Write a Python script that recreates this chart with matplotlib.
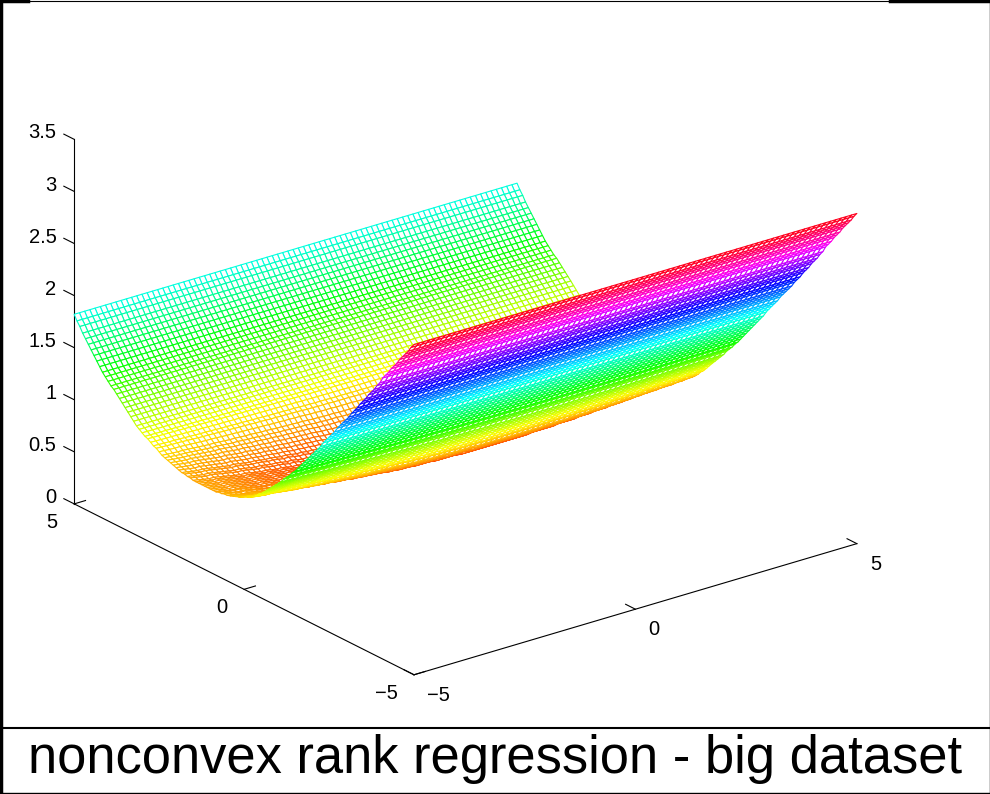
import matplotlib
matplotlib.use('Agg')
import matplotlib.pyplot as plt
from matplotlib.lines import Line2D
import numpy as np

plt.rcParams['font.family'] = ['Liberation Sans', 'DejaVu Sans']

title = 'nonconvex rank regression - big dataset'
tick_xy = [-5, 0, 5]
tick_z = [0, 0.5, 1, 1.5, 2, 2.5, 3, 3.5]
tick_z_labels = ['0', '0.5', '1', '1.5', '2', '2.5', '3', '3.5']

# height of the x=-5 edge, one value per mesh line, y=-5 to y=5
edge_z = [3.17, 3.13, 3.08, 3.04, 3.00, 2.96, 2.91, 2.87, 2.83, 2.78, 2.74, 2.70,
          2.64, 2.60, 2.55, 2.51, 2.47, 2.42, 2.38, 2.34, 2.29, 2.25, 2.21, 2.16,
          2.12, 2.08, 2.04, 2.00, 1.95, 1.91, 1.87, 1.83, 1.79, 1.74, 1.70, 1.66,
          1.62, 1.58, 1.54, 1.50, 1.46, 1.42, 1.38, 1.35, 1.31, 1.28, 1.25, 1.21,
          1.18, 1.15, 1.12, 1.09, 1.06, 1.03, 1.00, 0.98, 0.95, 0.93, 0.91, 0.90,
          0.89, 0.87, 0.86, 0.85, 0.84, 0.83, 0.82, 0.82, 0.81, 0.81, 0.80, 0.80,
          0.80, 0.80, 0.80, 0.80, 0.80, 0.80, 0.80, 0.81, 0.81, 0.82, 0.82, 0.83,
          0.84, 0.85, 0.86, 0.87, 0.88, 0.89, 0.91, 0.93, 0.94, 0.96, 0.98, 0.99,
          1.01, 1.03, 1.05, 1.08, 1.11, 1.14, 1.17, 1.20, 1.23, 1.26, 1.29, 1.31,
          1.34, 1.37, 1.40, 1.44, 1.48, 1.52, 1.56, 1.60, 1.64, 1.68, 1.73, 1.77,
          1.82]

# how far the valley floor sits below that edge, x=-5 to x=5
valley_dip = [0.00, 0.01, 0.02, 0.03, 0.03, 0.04, 0.05, 0.06, 0.07, 0.08, 0.08, 0.09, 0.10,
              0.11, 0.11, 0.12, 0.13, 0.13, 0.14, 0.15, 0.15, 0.16, 0.17, 0.17, 0.18, 0.18,
              0.19, 0.19, 0.20, 0.21, 0.21, 0.22,
              0.22, 0.22, 0.23, 0.23, 0.23, 0.23, 0.24, 0.24, 0.24, 0.24, 0.24, 0.25, 0.25,
              0.25, 0.25, 0.25, 0.25, 0.25, 0.25,
              0.25, 0.25, 0.25, 0.25, 0.25, 0.24, 0.24, 0.24, 0.24, 0.24, 0.23, 0.23, 0.23,
              0.23, 0.22, 0.22, 0.22, 0.21, 0.21, 0.21, 0.20, 0.20, 0.20, 0.19, 0.19, 0.18,
              0.18, 0.18, 0.17, 0.17, 0.17, 0.16, 0.16, 0.15, 0.15]

# share of the dip felt at each y line
dip_share = [0.00] * 31 + [
    0.01, 0.02, 0.03, 0.03, 0.04, 0.05,
    0.06, 0.07, 0.08, 0.09, 0.10, 0.12, 0.14, 0.16, 0.18, 0.21, 0.24, 0.27,
    0.30, 0.34, 0.37, 0.41, 0.46, 0.50, 0.54, 0.59, 0.64, 0.69, 0.74, 0.79,
    0.84, 0.89, 0.93, 0.96, 0.98] + [1.00] * 13 + [
    0.97, 0.94, 0.90, 0.86, 0.81, 0.75, 0.69, 0.61, 0.53, 0.46, 0.39, 0.32,
    0.26, 0.21, 0.16, 0.12, 0.09, 0.07, 0.04, 0.03, 0.02, 0.01] + [0.00] * 20

x_lines = np.linspace(-5, 5, len(valley_dip))
y_lines = np.linspace(-5, 5, len(edge_z))
X, Y = np.meshgrid(x_lines, y_lines)
Z = np.array(edge_z)[:, None] - np.outer(dip_share, valley_dip)

fig = plt.figure(figsize=(9.9, 7.94), dpi=100)
ax = fig.add_axes([-48 / 990, -61 / 794, 1000 / 990, 1000 / 794], projection='3d')
ax.set_proj_type('ortho')
ax.view_init(elev=22.7, azim=-127.5)
ax.set_box_aspect((558, 558, 395), zoom=0.857)
ax.set_xlim(-5, 5, view_margin=0)
ax.set_ylim(-5, 5, view_margin=0)
ax.set_zlim(0, 3.5, view_margin=0)

surf = ax.plot_surface(X, Y, Z, rstride=1, cstride=1, color='white', shade=False, linewidth=0.8)
cells = (Z[:-1, :-1] + Z[1:, :-1] + Z[:-1, 1:] + Z[1:, 1:]) / 4
hue = (cells - 0.5) / (Z.max() - 0.5)
surf.set_edgecolor(plt.cm.hsv(hue.ravel()))
surf.set_facecolor('white')

ax.set_xticks(tick_xy)
ax.set_yticks(tick_xy)
ax.set_zticks(tick_z)
ax.set_zticklabels(tick_z_labels)
ax.grid(False)
ax.zaxis._get_tickdir = lambda pos: 1
for axis, tick_len in ((ax.xaxis, 0.36), (ax.yaxis, 0.32), (ax.zaxis, 0.38)):
    axis.pane.fill = False
    axis.pane.set_edgecolor('none')
    axis.line.set_linewidth(0.8)
    axis.line.set_color('black')
    axis._axinfo['tick']['inward_factor'] = 0
    axis._axinfo['tick']['outward_factor'] = tick_len
    axis._axinfo['tick']['linewidth'] = {True: 0.8, False: 0.8}
ax.tick_params(axis='x', labelsize=14.5, pad=6.5)
ax.tick_params(axis='y', labelsize=14.5, pad=6)
ax.tick_params(axis='z', labelsize=14.5, pad=0.5)
for t in ax.get_xticklabels():
    t.set_ha('left')
    t.set_va('center')
for t in ax.get_yticklabels():
    t.set_ha('right')
    t.set_va('center')
for t in ax.get_zticklabels():
    t.set_ha('right')
    t.set_va('baseline')

# caption box and outer frame
fig.add_artist(Line2D([0, 1], [1 - 727.5 / 794] * 2, color='black', lw=1.5))
fig.add_artist(Line2D([0.001, 0.001], [0, 1], color='black', lw=2.5))
fig.add_artist(Line2D([0.9995, 0.9995], [0, 1], color='black', lw=1))
fig.add_artist(Line2D([0, 1], [0.0008, 0.0008], color='black', lw=1))
fig.add_artist(Line2D([0, 1], [0.9993, 0.9993], color='black', lw=0.8))
fig.add_artist(Line2D([0, 28 / 990], [0.999, 0.999], color='black', lw=2.5))
fig.add_artist(Line2D([890 / 990, 1], [0.999, 0.999], color='black', lw=2.5))
fig.text(0.5005, 1 - 759 / 794, title, ha='center', va='center', fontsize=37.85)

fig.savefig('out.png', dpi=100)
